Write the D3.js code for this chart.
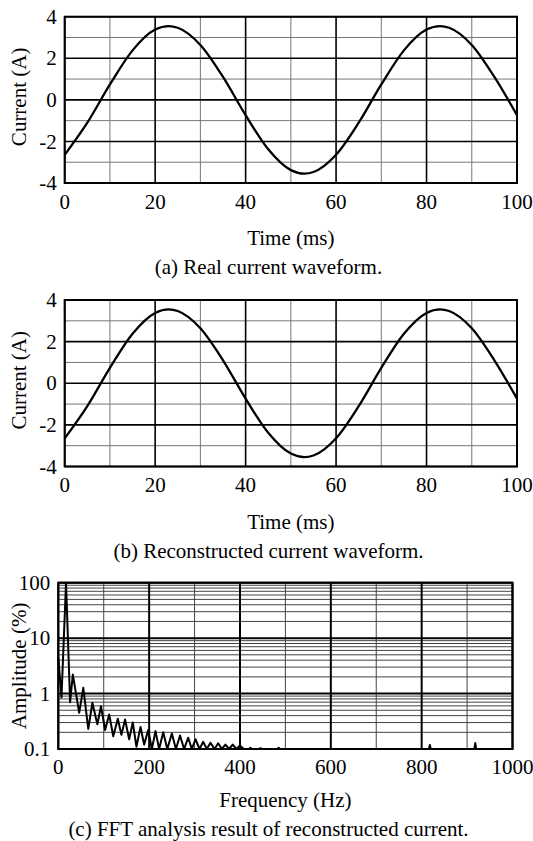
<!DOCTYPE html>
<html>
<head>
<meta charset="utf-8">
<script src="https://cdn.jsdelivr.net/npm/d3@7"></script>
<style>
  body { margin: 0; background: #fff; }
  svg text { font-family: "Liberation Serif", "Times New Roman", serif; fill: #000; }
</style>
</head>
<body>
<svg class="fig"></svg>
<script>
const size = {w: 533, h: 841};

// waveform samples (ms, A)
const timeMs = [0, 5, 10, 15, 20, 23, 25, 30, 35, 40, 45, 50, 53, 55, 60, 65, 70, 75, 80, 83, 85, 90, 95, 100];
const realCurrentA = [-2.65, -1.10, 0.74, 2.38, 3.38, 3.55, 3.47, 2.64, 1.10, -0.74, -2.38, -3.38, -3.55, -3.47, -2.64, -1.10, 0.74, 2.38, 3.38, 3.55, 3.47, 2.64, 1.10, -0.74];
const reconCurrentA = [-2.65, -1.10, 0.74, 2.38, 3.38, 3.55, 3.47, 2.64, 1.10, -0.74, -2.38, -3.38, -3.55, -3.47, -2.64, -1.10, 0.74, 2.38, 3.38, 3.55, 3.47, 2.64, 1.10, -0.74];

// FFT spectrum vertices (Hz, %)
const freqHz = [0, 7, 17, 26, 32, 46, 55, 66, 75, 86, 94, 103, 112, 121, 131, 139, 147, 156, 164, 172,
  181, 189, 198, 206, 214, 222, 231, 240, 250, 259, 268, 277, 286, 294, 302, 311, 319, 327, 335, 344,
  352, 360, 368, 376, 384, 392, 400, 408, 420, 423, 426, 442, 445, 448, 482, 485, 488,
  816, 818, 820, 916, 918, 920, 1000];
const ampPct = [4.5, 0.85, 100, 0.7, 2.2, 0.45, 1.27, 0.23, 0.68, 0.28, 0.59, 0.22, 0.42, 0.17, 0.35, 0.18, 0.34, 0.15, 0.30, 0.11,
  0.25, 0.12, 0.22, 0.1, 0.21, 0.1, 0.2, 0.1, 0.19, 0.1, 0.175, 0.1, 0.16, 0.1, 0.15, 0.1, 0.135, 0.1, 0.13, 0.1,
  0.127, 0.1, 0.12, 0.1, 0.12, 0.1, 0.116, 0.1, 0.1, 0.105, 0.1, 0.1, 0.104, 0.1, 0.1, 0.105, 0.1,
  0.1, 0.118, 0.1, 0.1, 0.128, 0.1, 0.1];

const timeTicks = [0, 20, 40, 60, 80, 100];
const timeMinor = [10, 30, 50, 70, 90];
const currentTicks = [-4, -2, 0, 2, 4];
const currentMinor = [-3, -1, 1, 3];
const freqTicks = [0, 200, 400, 600, 800, 1000];
const freqMinor = [100, 300, 500, 700, 900];
const ampTicks = [0.1, 1, 10, 100];

const captions = [
  '(a) Real current waveform.',
  '(b) Reconstructed current waveform.',
  '(c) FFT analysis result of reconstructed current.'
];

const svg = d3.select('svg.fig')
    .attr('width', size.w)
    .attr('height', size.h);

const fs = 21;

function gridLines(g, x, y, xs, ys, color, width) {
    g.selectAll(null).data(xs).join('line')
        .attr('x1', d => x(d)).attr('x2', d => x(d))
        .attr('y1', y.range()[0]).attr('y2', y.range()[1])
        .attr('stroke', color).attr('stroke-width', width);
    g.selectAll(null).data(ys).join('line')
        .attr('y1', d => y(d)).attr('y2', d => y(d))
        .attr('x1', x.range()[0]).attr('x2', x.range()[1])
        .attr('stroke', color).attr('stroke-width', width);
}

function labels(g, x, y, xt, yt, box, off) {
    g.selectAll(null).data(xt).join('text')
        .attr('x', d => x(d))
        .attr('y', box.bottom + off.tick)
        .attr('dy', '0.34em')
        .attr('text-anchor', 'middle')
        .attr('font-size', fs)
        .text(d => d);
    g.selectAll(null).data(yt).join('text')
        .attr('x', box.left - 8)
        .attr('y', d => y(d))
        .attr('dy', '0.34em')
        .attr('text-anchor', 'end')
        .attr('font-size', fs)
        .text(d => d);
}

function titles(g, box, xTitle, yTitle, yCenter, caption, off) {
    g.append('text')
        .attr('x', (box.left + box.right) / 2)
        .attr('y', box.bottom + off.title)
        .attr('dy', '0.34em')
        .attr('text-anchor', 'middle')
        .attr('font-size', fs)
        .text(xTitle);
    g.append('text')
        .attr('transform', `translate(19,${yCenter}) rotate(-90)`)
        .attr('dy', '0.34em')
        .attr('text-anchor', 'middle')
        .attr('font-size', fs)
        .text(yTitle);
    g.append('text')
        .attr('x', size.w / 2 + 2)
        .attr('y', box.bottom + off.caption)
        .attr('dy', '0.34em')
        .attr('text-anchor', 'middle')
        .attr('font-size', fs)
        .text(caption);
}

// DRAW current waveform
function drawWave(box, values, caption) {
    const g = svg.append('g');
    const x = d3.scaleLinear().domain([0, 100]).range([box.left, box.right]);
    const y = d3.scaleLinear().domain([-4, 4]).range([box.bottom, box.top]);
    const off = {tick: 18.5, title: 55, caption: 84};

    gridLines(g, x, y, timeMinor, currentMinor, '#777', 1);
    gridLines(g, x, y, timeTicks, currentTicks, '#000', 1.6);

    g.append('rect')
        .attr('x', box.left).attr('y', box.top)
        .attr('width', box.right - box.left).attr('height', box.bottom - box.top)
        .attr('fill', 'none').attr('stroke', '#000').attr('stroke-width', 2);

    const line = d3.line()
        .x((d, i) => x(timeMs[i]))
        .y(d => y(d))
        .curve(d3.curveMonotoneX);

    g.append('path')
        .datum(values)
        .attr('d', line)
        .attr('fill', 'none')
        .attr('stroke', '#000')
        .attr('stroke-width', 2.3);

    labels(g, x, y, timeTicks, currentTicks, box, off);
    titles(g, box, 'Time (ms)', 'Current (A)', (box.top + box.bottom) / 2 - 3, caption, off);
}

// DRAW FFT spectrum
function drawFFT(box, caption) {
    const g = svg.append('g');
    const x = d3.scaleLinear().domain([0, 1000]).range([box.left, box.right]);
    const y = d3.scaleLog().domain([0.1, 100]).range([box.bottom, box.top]);
    const off = {tick: 17.5, title: 51, caption: 80};

    const logMinor = [];
    ampTicks.slice(0, -1).forEach(d => {
        for (let k = 2; k <= 9; k++) logMinor.push(d * k);
    });

    gridLines(g, x, y, freqMinor, logMinor, '#444', 1);
    gridLines(g, x, y, freqTicks, ampTicks, '#000', 2);

    g.append('rect')
        .attr('x', box.left).attr('y', box.top)
        .attr('width', box.right - box.left).attr('height', box.bottom - box.top)
        .attr('fill', 'none').attr('stroke', '#000').attr('stroke-width', 2);

    const line = d3.line()
        .x(d => x(d[0]))
        .y(d => y(d[1]));

    g.append('path')
        .datum(freqHz.map((f, i) => [f, ampPct[i]]))
        .attr('d', line)
        .attr('fill', 'none')
        .attr('stroke', '#000')
        .attr('stroke-width', 2)
        .attr('stroke-linejoin', 'round');

    labels(g, x, y, freqTicks, ampTicks, box, off);
    titles(g, box, 'Frequency (Hz)', 'Amplitude (%)', (box.top + box.bottom) / 2, caption, off);
}

drawWave({left: 64.7, right: 517, top: 16.7, bottom: 183}, realCurrentA, captions[0]);
drawWave({left: 64.7, right: 517, top: 300, bottom: 466.5}, reconCurrentA, captions[1]);
drawFFT({left: 58.3, right: 512.5, top: 582.7, bottom: 749}, captions[2]);
</script>
</body>
</html>
